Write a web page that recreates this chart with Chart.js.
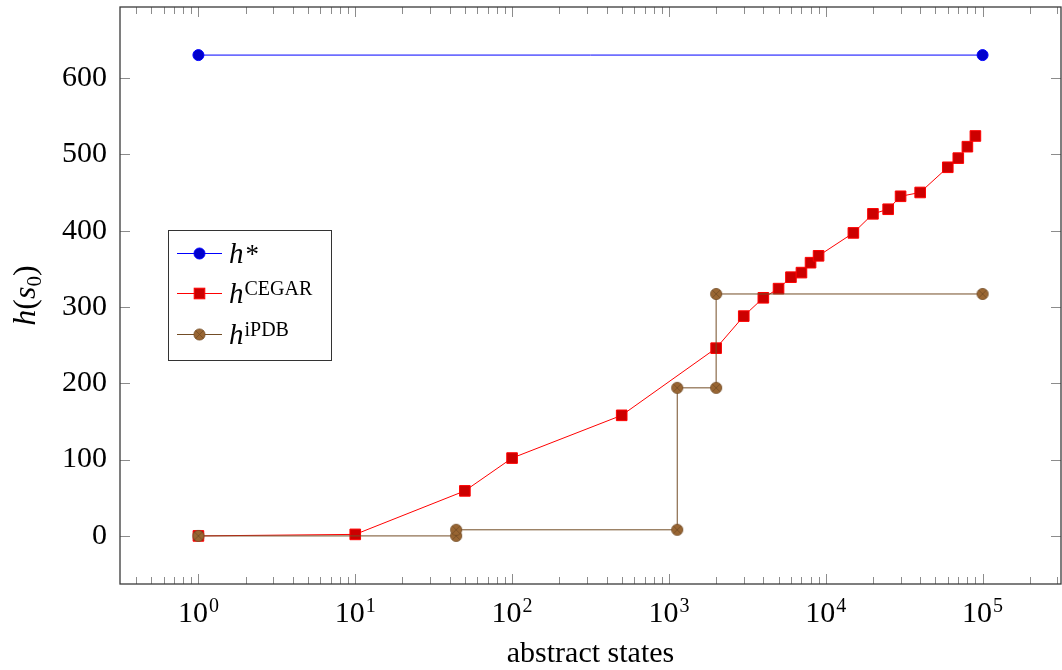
<!DOCTYPE html>
<html lang="en">
<head>
<meta charset="UTF-8">
<title>h(s0) over abstract states</title>
<script src="https://cdn.jsdelivr.net/npm/chart.js"></script>
<style>
  html, body { margin: 0; padding: 0; background: #fff; }
  #wrap { width: 1062px; height: 670px; }
</style>
</head>
<body>
<div id="wrap"><canvas id="chart" width="1062" height="670"></canvas></div>
<script>
// values
const hStarStates = [1, 100000];
const hStarValues = [630, 630];

const cegarStates = [1, 10, 50, 100, 500, 2000, 3000, 4000, 5000, 6000, 7000, 8000, 9000,
                     15000, 20000, 25000, 30000, 40000, 60000, 70000, 80000, 90000];
const cegarValues = [0, 2, 59, 102, 158, 246, 288, 312, 324, 339, 345, 358, 367,
                     397, 422, 428, 445, 450, 483, 495, 510, 524];

const ipdbStates = [1, 44, 44, 1130, 1130, 2000, 2000, 100000];
const ipdbValues = [0, 0, 8, 8, 194, 194, 317, 317];

const yTicks = [0, 100, 200, 300, 400, 500, 600];
const xTickExponents = [0, 1, 2, 3, 4, 5];

const FONT = '"Liberation Serif", "Times New Roman", serif';
const BROWN_LINE = '#734d26';
const BROWN_FILL = '#996633';

function drawOtimes(g, x, y, r) {
    g.beginPath();
    g.arc(x, y, r, 0, Math.PI * 2);
    g.fillStyle = BROWN_FILL;
    g.fill();
    g.lineWidth = 0.8;
    g.strokeStyle = BROWN_LINE;
    g.stroke();
    const d = r * Math.SQRT1_2;
    g.beginPath();
    g.moveTo(x - d, y - d); g.lineTo(x + d, y + d);
    g.moveTo(x - d, y + d); g.lineTo(x + d, y - d);
    g.stroke();
}

// otimes* mark as a point style
const otimes = document.createElement('canvas');
otimes.width = 14;
otimes.height = 14;
drawOtimes(otimes.getContext('2d'), 7, 7, 5.6);

const toPoints = (xs, ys) => xs.map((x, i) => ({ x: x, y: ys[i] }));

// frame, inward ticks, x labels with exponents, titles and legend
const decor = {
    id: 'decor',
    afterDraw(chart) {
        const ctx = chart.ctx;
        const { left, right, top, bottom } = chart.chartArea;
        const xs = chart.scales.x;
        const ys = chart.scales.y;
        ctx.save();

        ctx.strokeStyle = '#8c8c8c';
        ctx.lineWidth = 1;
        ctx.beginPath();
        for (let k = -1; k <= 5; k++) {
            for (let m = 1; m <= 9; m++) {
                const v = m * Math.pow(10, k);
                if (v < xs.min || v > xs.max) continue;
                const px = Math.round(xs.getPixelForValue(v)) + 0.5;
                const len = m === 1 ? 10 : 7;
                ctx.moveTo(px, bottom); ctx.lineTo(px, bottom - len);
                ctx.moveTo(px, top); ctx.lineTo(px, top + len);
            }
        }
        yTicks.forEach(v => {
            const py = Math.round(ys.getPixelForValue(v)) + 0.5;
            ctx.moveTo(left, py); ctx.lineTo(left + 10, py);
            ctx.moveTo(right, py); ctx.lineTo(right - 10, py);
        });
        ctx.stroke();

        ctx.strokeStyle = '#3a3a3a';
        ctx.lineWidth = 1.3;
        ctx.strokeRect(left, top, right - left, bottom - top);

        // x tick labels 10^k
        ctx.fillStyle = '#000';
        ctx.textBaseline = 'alphabetic';
        ctx.textAlign = 'left';
        xTickExponents.forEach(e => {
            const px = xs.getPixelForValue(Math.pow(10, e));
            ctx.font = '30px ' + FONT;
            const wBase = ctx.measureText('10').width;
            ctx.font = '20px ' + FONT;
            const wExp = ctx.measureText(String(e)).width;
            const x0 = px - (wBase + wExp + 1) / 2;
            ctx.font = '30px ' + FONT;
            ctx.fillText('10', x0, 622);
            ctx.font = '20px ' + FONT;
            ctx.fillText(String(e), x0 + wBase + 1, 612);
        });

        // x title
        ctx.font = '30px ' + FONT;
        ctx.textAlign = 'center';
        ctx.fillText('abstract states', (left + right) / 2, 662);

        // y title h(s_0)
        const parts = [
            { t: 'h', f: 'italic 32px ', dy: 0 },
            { t: '(', f: '32px ', dy: 0 },
            { t: 's', f: 'italic 32px ', dy: 0 },
            { t: '0', f: '21px ', dy: 6 },
            { t: ')', f: '32px ', dy: 0 }
        ];
        let total = 0;
        parts.forEach(p => { ctx.font = p.f + FONT; p.w = ctx.measureText(p.t).width; total += p.w; });
        ctx.save();
        ctx.translate(35, (top + bottom) / 2);
        ctx.rotate(-Math.PI / 2);
        ctx.textAlign = 'left';
        let cx = -total / 2;
        parts.forEach(p => {
            ctx.font = p.f + FONT;
            ctx.fillText(p.t, cx, p.dy);
            cx += p.w;
        });
        ctx.restore();

        // legend
        ctx.fillStyle = '#fff';
        ctx.fillRect(168.5, 230.5, 163, 130);
        ctx.strokeStyle = '#333';
        ctx.lineWidth = 1;
        ctx.strokeRect(168.5, 230.5, 163, 130);

        const rows = [
            { y: 253.5, color: '#0000ff', sup: '*', mark: 'circle' },
            { y: 293.5, color: '#ff0000', sup: 'CEGAR', mark: 'square' },
            { y: 334.5, color: BROWN_LINE, sup: 'iPDB', mark: 'otimes' }
        ];
        rows.forEach(r => {
            ctx.strokeStyle = r.color;
            ctx.lineWidth = 1;
            ctx.beginPath();
            ctx.moveTo(177, r.y); ctx.lineTo(222, r.y);
            ctx.stroke();
            const mx = 199.5;
            if (r.mark === 'circle') {
                ctx.beginPath();
                ctx.arc(mx, r.y, 5.5, 0, Math.PI * 2);
                ctx.fillStyle = '#0000cc';
                ctx.fill();
                ctx.strokeStyle = '#0000ff';
                ctx.stroke();
            } else if (r.mark === 'square') {
                ctx.fillStyle = '#cc0000';
                ctx.fillRect(mx - 5.3, r.y - 5.3, 10.6, 10.6);
                ctx.strokeStyle = '#ff0000';
                ctx.strokeRect(mx - 5.3, r.y - 5.3, 10.6, 10.6);
            } else {
                drawOtimes(ctx, mx, r.y, 5.6);
            }
            const base = r.y + 9;
            ctx.fillStyle = '#000';
            ctx.textAlign = 'left';
            ctx.font = 'italic 29px ' + FONT;
            ctx.fillText('h', 229, base);
            const hw = ctx.measureText('h').width;
            if (r.sup === '*') {
                ctx.font = '27px ' + FONT;
                ctx.fillText('*', 229 + hw + 2, base);
            } else {
                ctx.font = '20px ' + FONT;
                ctx.fillText(r.sup, 229 + hw + 1, base - 8);
            }
        });

        ctx.restore();
    }
};

new Chart(document.getElementById('chart'), {
    type: 'line',
    data: {
        datasets: [
            {
                label: 'h*',
                data: toPoints(hStarStates, hStarValues),
                borderColor: '#0000ff',
                backgroundColor: '#0000cc',
                pointBorderColor: '#0000ff',
                borderWidth: 1,
                pointRadius: 5.5,
                pointBorderWidth: 1,
                pointStyle: 'circle',
                order: 2
            },
            {
                label: 'hCEGAR',
                data: toPoints(cegarStates, cegarValues),
                borderColor: '#ff0000',
                backgroundColor: '#cc0000',
                pointBorderColor: '#ff0000',
                borderWidth: 1,
                pointRadius: 7.5,
                pointBorderWidth: 1,
                pointStyle: 'rect',
                order: 1
            },
            {
                label: 'hiPDB',
                data: toPoints(ipdbStates, ipdbValues),
                borderColor: BROWN_LINE,
                backgroundColor: BROWN_FILL,
                borderWidth: 1,
                pointStyle: otimes,
                pointRadius: 6,
                order: 0
            }
        ]
    },
    options: {
        responsive: false,
        animation: false,
        devicePixelRatio: 1,
        events: [],
        layout: { autoPadding: false, padding: { top: 7, left: 0, right: 1, bottom: 0 } },
        plugins: { legend: { display: false }, tooltip: { enabled: false } },
        elements: { line: { tension: 0, fill: false } },
        scales: {
            x: {
                type: 'logarithmic',
                bounds: 'data',
                min: Math.pow(10, -0.5),
                max: Math.pow(10, 5.5),
                grid: { display: false },
                border: { display: false },
                ticks: { display: false },
                afterFit: s => { s.height = 86; s.paddingLeft = 0; s.paddingRight = 0; }
            },
            y: {
                type: 'linear',
                min: -63,
                max: 693,
                grid: { display: false, drawTicks: false },
                border: { display: false },
                afterBuildTicks: s => { s.ticks = yTicks.map(v => ({ value: v })); },
                ticks: { color: '#000', padding: 13, font: { family: FONT, size: 30 } },
                afterFit: s => { s.width = 120; s.paddingTop = 0; s.paddingBottom = 0; }
            }
        }
    },
    plugins: [decor]
});
</script>
</body>
</html>
